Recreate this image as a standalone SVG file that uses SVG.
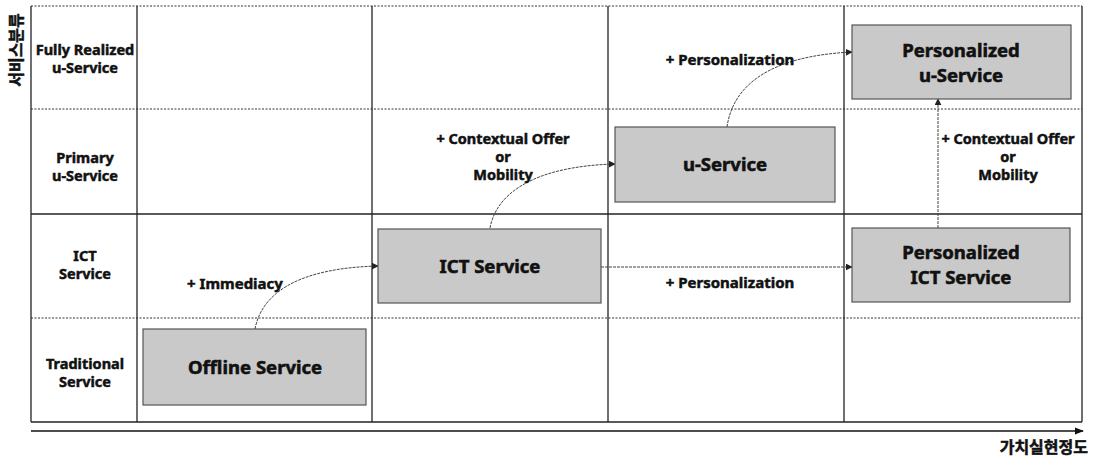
<svg xmlns="http://www.w3.org/2000/svg" width="1093" height="456" viewBox="0 0 1093 456">
<defs>
<marker id="ah" viewBox="0 0 10 10" refX="9" refY="5" markerWidth="7" markerHeight="7" markerUnits="userSpaceOnUse" orient="auto">
<path d="M0,0 L10,5 L0,10 z" fill="#222"/>
</marker>
<marker id="ax" viewBox="0 0 10 10" refX="9" refY="5" markerWidth="9" markerHeight="9" markerUnits="userSpaceOnUse" orient="auto">
<path d="M0,1 L10,5 L0,9 z" fill="#111"/>
</marker>
</defs>
<style>
.solid{stroke:#222;stroke-width:1.3;fill:none}
.dot{stroke:#333;stroke-width:1;stroke-dasharray:2 1.5;fill:none}
.box{fill:#c9c9c9;stroke:#555;stroke-width:1.2}
text{font-family:"Noto Sans","Liberation Sans",sans-serif;font-weight:bold;fill:#111;stroke:#111;stroke-width:0.5;text-anchor:middle}
.lbl{font-size:14.5px}
.note{font-size:15px}
.note3{font-size:14.5px}
.bt{font-size:18.5px;stroke-width:0.6}
.kr{font-family:"Noto Sans CJK KR",sans-serif;font-size:16px}
.conn{stroke:#444;stroke-width:1;stroke-dasharray:3 1;fill:none;marker-end:url(#ah)}
</style>
<rect width="1093" height="456" fill="#fff"/>
<g id="grid">
<line class="dot" x1="31" y1="6" x2="1082" y2="6"/>
<line class="dot" x1="31" y1="109" x2="1082" y2="109"/>
<line class="solid" x1="31" y1="214" x2="1082" y2="214"/>
<line class="dot" x1="31" y1="318" x2="1082" y2="318"/>
<line class="solid" x1="31" y1="422" x2="1082" y2="422"/>
<line class="solid" x1="31" y1="6" x2="31" y2="422"/>
<line class="solid" x1="137" y1="6" x2="137" y2="422"/>
<line class="solid" x1="372" y1="6" x2="372" y2="422"/>
<line class="solid" x1="608" y1="6" x2="608" y2="422"/>
<line class="solid" x1="844" y1="6" x2="844" y2="422"/>
<line class="solid" x1="1082" y1="6" x2="1082" y2="422"/>
</g>
<g id="axes">
<line x1="31" y1="431" x2="1083" y2="431" stroke="#111" stroke-width="1.3" marker-end="url(#ax)"/>
<text class="kr" x="1088" y="453" style="text-anchor:end">가치실현정도</text>
<text class="kr" x="0" y="0" transform="translate(22,50) rotate(-90)">서비스분류</text>
</g>
<g id="rowlabels">
<text class="lbl" x="85" y="55">Fully Realized<tspan x="85" dy="18">u-Service</tspan></text>
<text class="lbl" x="85" y="163">Primary<tspan x="85" dy="18">u-Service</tspan></text>
<text class="lbl" x="85" y="261">ICT<tspan x="85" dy="18">Service</tspan></text>
<text class="lbl" x="85" y="369">Traditional<tspan x="85" dy="18">Service</tspan></text>
</g>
<g id="connectors">
<path class="conn" d="M255,329 C262,292 300,268 378,266"/>
<path class="conn" d="M490,228 C497,190 540,166 615,164"/>
<path class="conn" d="M727,127 C733,85 770,56 852,52"/>
<path class="conn" d="M601,267 L852,267"/>
<path class="conn" d="M938,228 L938,99"/>
</g>
<g id="labels">
<text class="note" x="235" y="289">+ Immediacy</text>
<text class="note3" x="503" y="144">+ Contextual Offer<tspan x="503" dy="18">or</tspan><tspan x="503" dy="18">Mobility</tspan></text>
<text class="note" x="730" y="65">+ Personalization</text>
<text class="note" x="730" y="288">+ Personalization</text>
<text class="note3" x="1008" y="144">+ Contextual Offer<tspan x="1008" dy="18">or</tspan><tspan x="1008" dy="18">Mobility</tspan></text>
</g>
<g id="offline">
<rect class="box" x="143" y="329" width="223" height="76"/>
<text class="bt" x="255" y="374">Offline Service</text>
</g>
<g id="ict">
<rect class="box" x="378" y="229" width="223" height="74"/>
<text class="bt" x="490" y="273">ICT Service</text>
</g>
<g id="u-service">
<rect class="box" x="615" y="127" width="220" height="75"/>
<text class="bt" x="725" y="171">u-Service</text>
</g>
<g id="p-u-service">
<rect class="box" x="852" y="25" width="219" height="74"/>
<text class="bt" x="961" y="57">Personalized<tspan x="961" dy="25">u-Service</tspan></text>
</g>
<g id="p-ict">
<rect class="box" x="852" y="228" width="218" height="74"/>
<text class="bt" x="961" y="259">Personalized<tspan x="961" dy="25">ICT Service</tspan></text>
</g>
</svg>
